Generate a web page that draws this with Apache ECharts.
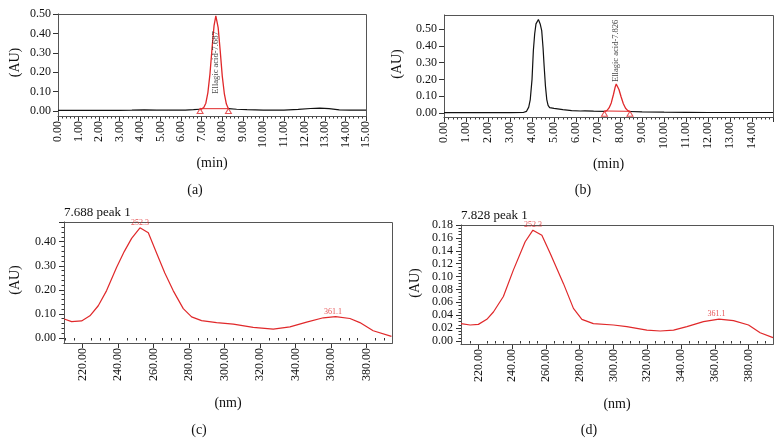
<!DOCTYPE html>
<html>
<head>
<meta charset="utf-8">
<script src="https://cdn.jsdelivr.net/npm/echarts@6/dist/echarts.min.js"></script>
<style>
html,body{margin:0;padding:0;background:#fff;}
#chart{width:782px;height:444px;}
</style>
</head>
<body>
<div id="chart"></div>
<script>
// ---------- DATA ----------
// (a) chromatogram, standard
const chromA_blackLeft = [[0,0.003],[1,0.003],[2,0.003],[3,0.003],[3.6,0.004],[4.2,0.006],[4.8,0.005],[5.5,0.004],[6.2,0.005],[6.6,0.007],[6.9,0.009]];
const chromA_blackRight = [[8.3,0.012],[8.7,0.009],[9.2,0.007],[10,0.005],[11,0.005],[11.7,0.008],[12.3,0.013],[12.75,0.015],[13.2,0.012],[13.7,0.006],[14.2,0.004],[15,0.004]];
const chromA_peak = [[6.9,0.006],[7.0,0.011],[7.1,0.018],[7.2,0.040],[7.3,0.095],[7.4,0.19],[7.5,0.32],[7.6,0.44],[7.687,0.49],[7.8,0.43],[7.9,0.31],[8.0,0.18],[8.1,0.09],[8.2,0.036],[8.3,0.012]];
const chromA_baseline = [[6.9,0.012],[8.3,0.012]];
const chromA_marks = [[6.92,0.0],[8.3,0.0]];
const chromA_label = {text:'Ellagic acid-7.687', x:7.68, y:0.25};

// (b) chromatogram, sample
const chromB_blackLeft = [[0,0.002],[1,0.002],[2,0.002],[3,0.002],[3.6,0.003],[3.75,0.01],[3.85,0.035],[3.92,0.08],[4.0,0.20],[4.06,0.37],[4.12,0.47],[4.18,0.53],[4.29,0.556],[4.37,0.53],[4.44,0.49],[4.5,0.39],[4.55,0.28],[4.61,0.16],[4.67,0.08],[4.73,0.045],[4.8,0.032],[5.0,0.027],[5.4,0.02],[5.8,0.014],[6.2,0.012],[6.4,0.013],[6.8,0.011],[7.29,0.010]];
const chromB_blackRight = [[8.45,0.009],[9,0.007],[10,0.005],[11,0.004],[12,0.003],[13,0.003],[14,0.003],[14.95,0.003]];
const chromB_peak = [[7.29,0.008],[7.4,0.014],[7.5,0.03],[7.6,0.06],[7.7,0.11],[7.78,0.155],[7.826,0.173],[7.88,0.165],[7.95,0.14],[8.05,0.095],[8.15,0.055],[8.25,0.028],[8.35,0.014],[8.45,0.008]];
const chromB_baseline = [[7.29,0.012],[8.45,0.010]];
const chromB_marks = [[7.29,-0.004],[8.45,-0.004]];
const chromB_label = {text:'Ellagic acid-7.826', x:7.81, y:0.37};

// (c) UV spectrum of standard peak
const specC = [[209.6,0.079],[213.8,0.068],[219.4,0.071],[224.1,0.092],[228.8,0.134],[233.5,0.197],[239.1,0.293],[243.5,0.36],[247.6,0.414],[252.3,0.458],[257.0,0.437],[261.7,0.352],[266.3,0.27],[271.0,0.197],[276.7,0.122],[281.4,0.088],[287.0,0.072],[295.5,0.064],[304.9,0.058],[316.1,0.044],[327.4,0.037],[336.8,0.046],[346.2,0.066],[355.6,0.084],[362.5,0.089],[370.6,0.081],[376.2,0.064],[383.7,0.030],[394.0,0.007]];
const specC_maxima = [[252.3,0.458,'252.3'],[361.1,0.089,'361.1']];
const specC_title = '7.688 peak 1';

// (d) UV spectrum of sample peak
const specD = [[209.7,0.027],[215.1,0.0248],[220.0,0.0258],[225.0,0.0336],[228.9,0.045],[234.8,0.069],[240.7,0.110],[247.7,0.154],[252.3,0.172],[257.6,0.164],[262.5,0.136],[270.4,0.089],[276.3,0.0506],[281.3,0.0336],[288.1,0.027],[300.0,0.0248],[307.9,0.0222],[319.8,0.017],[327.7,0.0155],[335.6,0.017],[343.5,0.0222],[353.3,0.030],[362.5,0.034],[371.1,0.0315],[380.0,0.0248],[386.9,0.0129],[394.5,0.0052]];
const specD_maxima = [[252.3,0.172,'252.3'],[361.1,0.034,'361.1']];
const specD_title = '7.828 peak 1';

// tick labels
const nmTicks = [220,240,260,280,300,320,340,360,380];
const nmMinorTicks = [210,215,225,230,235,245,250,255,265,270,275,285,290,295,305,310,315,325,330,335,345,350,355,365,370,375,385,390];
const captions = ['(a)','(b)','(c)','(d)'];

// ---------- STYLE ----------
const FONT = '"Liberation Serif","DejaVu Serif",serif';
const RED = '#e0282a';
const INK = '#111';
const AXC = '#333';

function fmt2(v){ return Number(v).toFixed(2); }

function baseAxis(extra){
  return Object.assign({
    type:'value',
    splitLine:{show:false},
    axisLine:{show:true, onZero:false, lineStyle:{color:AXC,width:1}},
    axisTick:{show:true, length:5, lineStyle:{color:AXC,width:1}},
    axisLabel:{fontFamily:FONT, fontSize:12, color:INK, formatter:fmt2},
    nameTextStyle:{fontFamily:FONT, fontSize:14, color:INK},
    nameLocation:'middle'
  }, extra);
}

const grids = [
  {left:58, top:14, width:308, height:97},
  {left:444, top:15, width:329, height:98},
  {left:64, top:222, width:328, height:116},
  {left:461, top:225, width:312, height:116}
];
const boxes = [
  [58,14,308,102],[444,15,329,102],[64,222,328,121],[461,225,312,119]
];

const xAxes = [
  baseAxis({gridIndex:0, min:0, max:15, interval:1, offset:5, name:'(min)', nameGap:40,
    axisLabel:{rotate:90, margin:5, fontFamily:FONT, fontSize:12, color:INK, formatter:fmt2},
    minorTick:{show:true, splitNumber:5, length:2.5, lineStyle:{color:AXC}}}),
  baseAxis({gridIndex:1, min:0, max:14.95, interval:1, offset:4, name:'(min)', nameGap:40,
    axisLabel:{rotate:90, margin:5, showMaxLabel:false, fontFamily:FONT, fontSize:12, color:INK, formatter:fmt2},
    minorTick:{show:true, splitNumber:5, length:2.5, lineStyle:{color:AXC}}}),
  baseAxis({gridIndex:2, min:209.5, max:394.3, offset:5, name:'(nm)', nameGap:53,
    axisLabel:{rotate:90, margin:5, customValues:nmTicks, fontFamily:FONT, fontSize:12, color:INK, formatter:fmt2},
    axisTick:{show:true, length:5, customValues:nmTicks, lineStyle:{color:AXC}}}),
  baseAxis({gridIndex:2, min:209.5, max:394.3, offset:5, position:'bottom',
    axisLine:{show:false}, axisLabel:{show:false},
    axisTick:{show:true, length:2.5, customValues:nmMinorTicks, lineStyle:{color:AXC}}}),
  baseAxis({gridIndex:3, min:209.7, max:394.5, offset:3, name:'(nm)', nameGap:53,
    axisLabel:{rotate:90, margin:5, customValues:nmTicks, fontFamily:FONT, fontSize:12, color:INK, formatter:fmt2},
    axisTick:{show:true, length:5, customValues:nmTicks, lineStyle:{color:AXC}}}),
  baseAxis({gridIndex:3, min:209.7, max:394.5, offset:3, position:'bottom',
    axisLine:{show:false}, axisLabel:{show:false},
    axisTick:{show:true, length:2.5, customValues:nmMinorTicks, lineStyle:{color:AXC}}})
];

const yAxes = [
  baseAxis({gridIndex:0, min:0, max:0.5, interval:0.1, name:'(AU)', nameGap:36,
    axisLabel:{margin:7, fontFamily:FONT, fontSize:12, color:INK, formatter:fmt2}}),
  baseAxis({gridIndex:1, min:0, max:0.583, interval:0.1, name:'(AU)', nameGap:40,
    axisLabel:{margin:7, showMaxLabel:false, fontFamily:FONT, fontSize:12, color:INK, formatter:fmt2}}),
  baseAxis({gridIndex:2, min:0, max:0.482, interval:0.1, name:'(AU)', nameGap:42,
    axisLabel:{margin:8, showMaxLabel:false, fontFamily:FONT, fontSize:12, color:INK, formatter:fmt2},
    minorTick:{show:true, splitNumber:5, length:2.5, lineStyle:{color:AXC}}}),
  baseAxis({gridIndex:3, min:0, max:0.18, interval:0.02, name:'(AU)', nameGap:39,
    axisLabel:{margin:8, fontFamily:FONT, fontSize:12, color:INK, formatter:fmt2},
    minorTick:{show:true, splitNumber:4, length:2.5, lineStyle:{color:AXC}}})
];

function lineS(x, y, data, color, w, z){
  return {type:'line', xAxisIndex:x, yAxisIndex:y, data:data, symbol:'none', clip:false,
    lineStyle:{color:color, width:w}, itemStyle:{color:color}, z:z||2, silent:true};
}
function marksS(x, y, data){
  return {type:'scatter', xAxisIndex:x, yAxisIndex:y, data:data, symbol:'triangle', symbolSize:[6,5], clip:false,
    itemStyle:{color:'#fff', borderColor:RED, borderWidth:1}, z:4, silent:true};
}
function peakLabelS(x, y, lab){
  return {type:'scatter', xAxisIndex:x, yAxisIndex:y, data:[[lab.x, lab.y]], symbolSize:0.1, clip:false,
    itemStyle:{color:'rgba(0,0,0,0)'}, z:6, silent:true,
    label:{show:true, position:'inside', rotate:90, formatter:lab.text, fontFamily:FONT, fontSize:8.5, color:INK}};
}
function maximaS(x, y, data){
  return {type:'scatter', xAxisIndex:x, yAxisIndex:y, data:data.map(d=>({value:[d[0],d[1]], name:d[2]})),
    symbolSize:0.1, clip:false, itemStyle:{color:'rgba(0,0,0,0)'}, z:6, silent:true,
    label:{show:true, position:'top', distance:1, formatter:p=>p.name, fontFamily:FONT, fontSize:8, color:RED}};
}

const series = [
  lineS(0,0,chromA_blackLeft,INK,1.2), lineS(0,0,chromA_blackRight,INK,1.2),
  lineS(0,0,chromA_baseline,RED,1,3), lineS(0,0,chromA_peak,RED,1.3,3),
  marksS(0,0,chromA_marks), peakLabelS(0,0,chromA_label),
  lineS(1,1,chromB_blackLeft,INK,1.2), lineS(1,1,chromB_blackRight,INK,1.2),
  lineS(1,1,chromB_baseline,RED,1,3), lineS(1,1,chromB_peak,RED,1.3,3),
  marksS(1,1,chromB_marks), peakLabelS(1,1,chromB_label),
  lineS(2,2,specC,RED,1.2), maximaS(2,2,specC_maxima),
  lineS(4,3,specD,RED,1.2), maximaS(4,3,specD_maxima)
];

const graphic = boxes.map(b=>({type:'rect', silent:true, z:1,
  shape:{x:b[0]+0.5, y:b[1]+0.5, width:b[2], height:b[3]},
  style:{fill:'none', stroke:'#555', lineWidth:1}}));
const capPos = [[195,190],[583,190],[199,430],[589,430]];
captions.forEach((c,i)=>graphic.push({type:'text', silent:true, x:capPos[i][0], y:capPos[i][1],
  style:{text:c, fontFamily:FONT, fontSize:14, fill:INK, align:'center', verticalAlign:'middle'}}));
graphic.push({type:'text', silent:true, x:64, y:213,
  style:{text:specC_title, fontFamily:FONT, fontSize:13, fill:INK, align:'left', verticalAlign:'middle'}});
graphic.push({type:'text', silent:true, x:461, y:216,
  style:{text:specD_title, fontFamily:FONT, fontSize:13, fill:INK, align:'left', verticalAlign:'middle'}});

const chart = echarts.init(document.getElementById('chart'), null, {renderer:'canvas'});
chart.setOption({
  animation:false,
  backgroundColor:'#fff',
  grid:grids,
  xAxis:xAxes,
  yAxis:yAxes,
  series:series,
  graphic:graphic
});
</script>
</body>
</html>
